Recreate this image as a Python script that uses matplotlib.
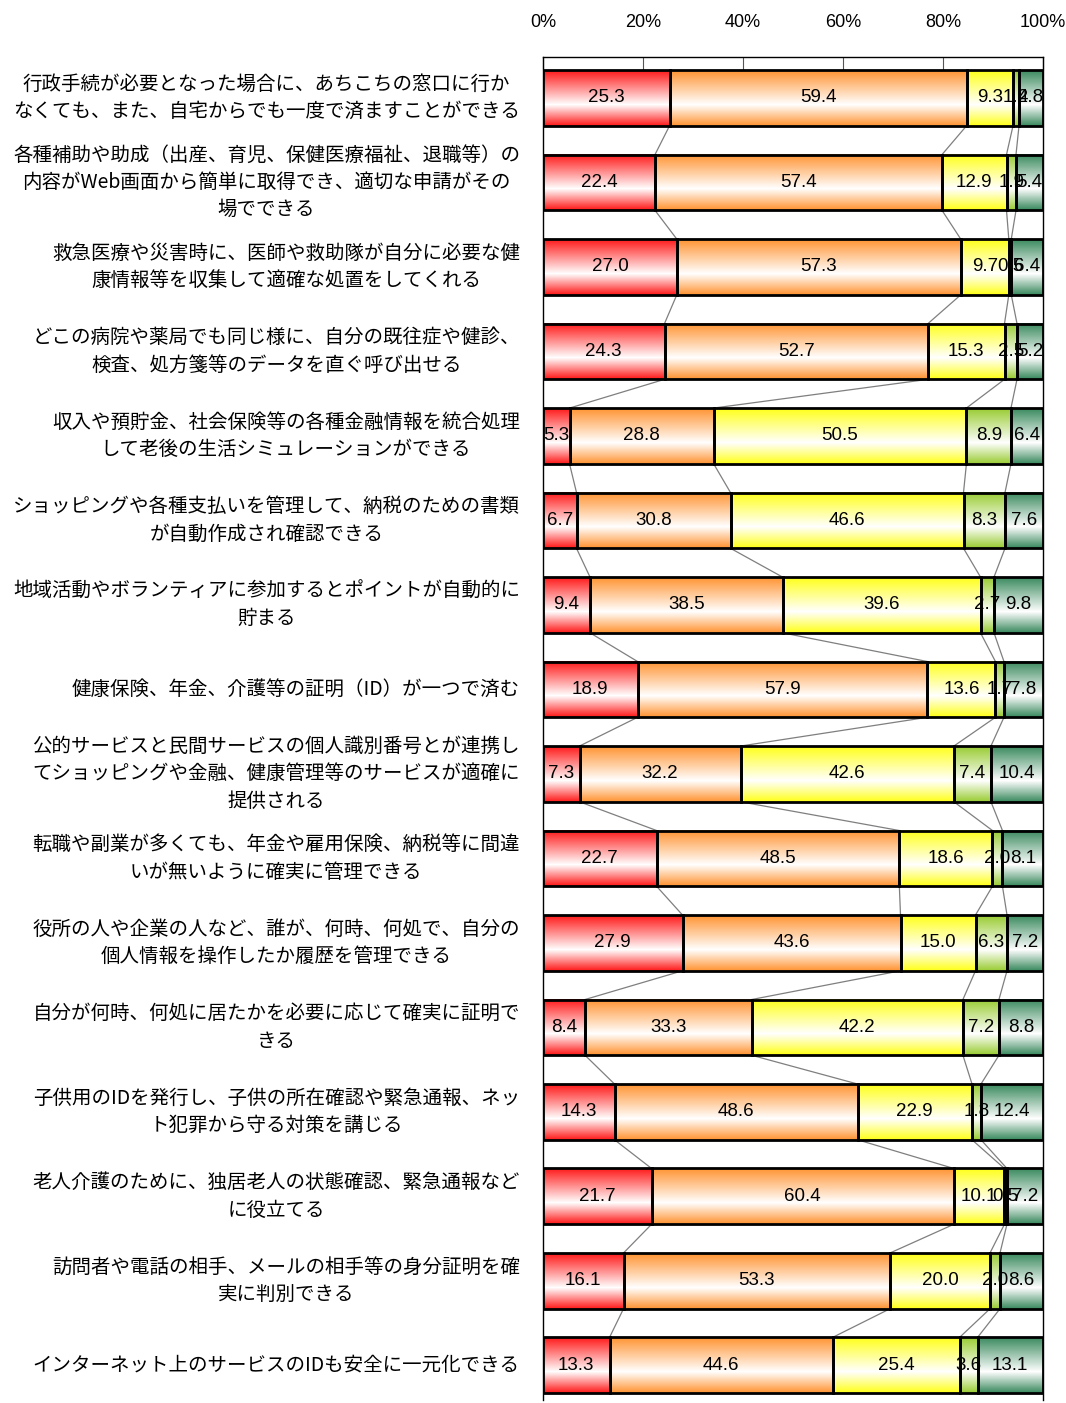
import numpy as np
import matplotlib
matplotlib.use("Agg")
import matplotlib.pyplot as plt
from matplotlib.colors import to_rgb
import matplotlib.transforms as mtransforms

plt.rcParams['font.family'] = ['Noto Sans CJK JP', 'DejaVu Sans']

labels = [
    "行政手続が必要となった場合に、あちこちの窓口に行か\nなくても、また、自宅からでも一度で済ますことができる",
    "各種補助や助成（出産、育児、保健医療福祉、退職等）の\n内容がWeb画面から簡単に取得でき、適切な申請がその\n場でできる",
    "救急医療や災害時に、医師や救助隊が自分に必要な健\n康情報等を収集して適確な処置をしてくれる",
    "どこの病院や薬局でも同じ様に、自分の既往症や健診、\n検査、処方箋等のデータを直ぐ呼び出せる",
    "収入や預貯金、社会保険等の各種金融情報を統合処理\nして老後の生活シミュレーションができる",
    "ショッピングや各種支払いを管理して、納税のための書類\nが自動作成され確認できる",
    "地域活動やボランティアに参加するとポイントが自動的に\n貯まる",
    "健康保険、年金、介護等の証明（ID）が一つで済む",
    "公的サービスと民間サービスの個人識別番号とが連携し\nてショッピングや金融、健康管理等のサービスが適確に\n提供される",
    "転職や副業が多くても、年金や雇用保険、納税等に間違\nいが無いように確実に管理できる",
    "役所の人や企業の人など、誰が、何時、何処で、自分の\n個人情報を操作したか履歴を管理できる",
    "自分が何時、何処に居たかを必要に応じて確実に証明で\nきる",
    "子供用のIDを発行し、子供の所在確認や緊急通報、ネッ\nト犯罪から守る対策を講じる",
    "老人介護のために、独居老人の状態確認、緊急通報など\nに役立てる",
    "訪問者や電話の相手、メールの相手等の身分証明を確\n実に判別できる",
    "インターネット上のサービスのIDも安全に一元化できる",
]

s1 = [25.3, 22.4, 27.0, 24.3, 5.3, 6.7, 9.4, 18.9, 7.3, 22.7, 27.9, 8.4, 14.3, 21.7, 16.1, 13.3]
s2 = [59.4, 57.4, 57.3, 52.7, 28.8, 30.8, 38.5, 57.9, 32.2, 48.5, 43.6, 33.3, 48.6, 60.4, 53.3, 44.6]
s3 = [9.3, 12.9, 9.7, 15.3, 50.5, 46.6, 39.6, 13.6, 42.6, 18.6, 15.0, 42.2, 22.9, 10.1, 20.0, 25.4]
s4 = [1.2, 1.9, 0.5, 2.5, 8.9, 8.3, 2.7, 1.7, 7.4, 2.0, 6.3, 7.2, 1.8, 0.5, 2.0, 3.6]
s5 = [4.8, 5.4, 6.4, 5.2, 6.4, 7.6, 9.8, 7.8, 10.4, 8.1, 7.2, 8.8, 12.4, 7.2, 8.6, 13.1]

colors = ["#FF1A1A", "#FF9433", "#FFFF1A", "#99CC33", "#3A8A5E"]

series = [s1, s2, s3, s4, s5]
data = np.array(series).T
data = data / data.sum(axis=1, keepdims=True) * 100
cum = np.cumsum(data, axis=1)
left = cum - data

fig = plt.figure(figsize=(10.66, 14.03), dpi=100)
ax = fig.add_axes([543 / 1066, 3 / 1403, 500 / 1066, 1343 / 1403])

n = len(labels)
h = 0.66

def grad(c):
    r = np.array(to_rgb(c))
    t = np.linspace(0, 1, 64)
    w = np.interp(t, [0, 0.62, 1], [0.0, 1.0, 0.0])
    rgb = r[None, :] * (1 - w[:, None]) + w[:, None]
    return rgb[:, None, :]

grads = [grad(c) for c in colors]

for i in range(n):
    for j in range(5):
        l, r = left[i, j], cum[i, j]
        ax.imshow(grads[j], extent=(l, r, i + h / 2, i - h / 2),
                  aspect='auto', interpolation='bilinear', zorder=1)
    ax.barh([i] * 5, data[i], left=left[i], height=h, fill=False,
            edgecolor='black', linewidth=2, zorder=3)
    for j in range(5):
        xc = left[i, j] + data[i, j] / 2
        ax.text(xc, i, f"{series[j][i]:.1f}", ha='center', va='center',
                fontsize=13.5, family=['Liberation Sans', 'DejaVu Sans'], zorder=4)

# series lines
for i in range(n - 1):
    for j in range(4):
        ax.plot([cum[i, j], cum[i + 1, j]], [i + h / 2, i + 1 - h / 2],
                color='#7f7f7f', linewidth=0.9, zorder=2)

ax.set_xlim(0, 100)
ax.set_ylim(n - 1 + 0.41, -0.485)
ax.set_yticks([])
ax.xaxis.tick_top()
ax.set_xticks([0, 20, 40, 60, 80, 100])
ax.set_xticklabels(["0%", "20%", "40%", "60%", "80%", "100%"],
                   fontsize=13, family=['Liberation Sans', 'DejaVu Sans'])
ax.tick_params(axis='x', direction='in', length=9.5, width=0.8, color='#555555', pad=19)
ax.spines['bottom'].set_visible(False)
for s in ['top', 'left', 'right']:
    ax.spines[s].set_linewidth(1)
    ax.spines[s].set_color('black')

trans = mtransforms.blended_transform_factory(ax.transAxes, ax.transData)
for i, lab in enumerate(labels):
    ax.text(-0.046, i, lab, transform=trans, ha='right', va='center',
            multialignment='center', fontsize=14, linespacing=1.4)

fig.savefig("out.png", dpi=100)
